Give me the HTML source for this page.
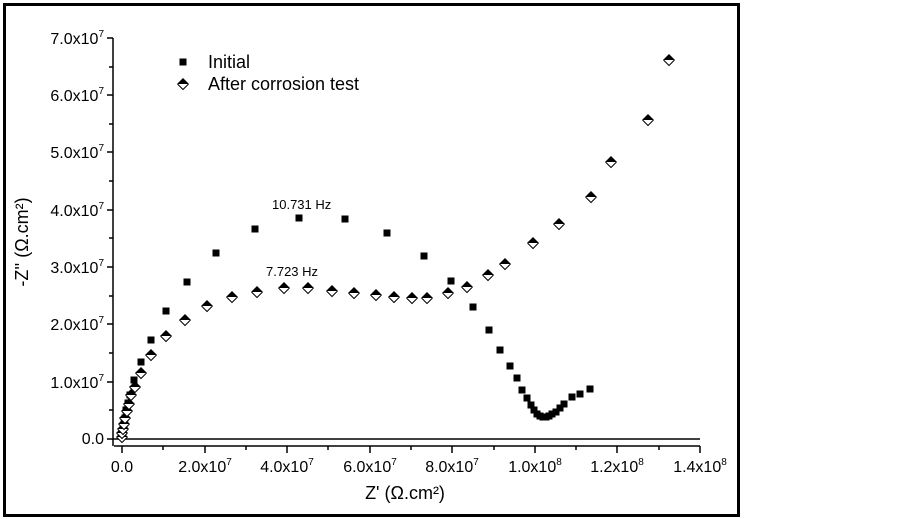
<!DOCTYPE html>
<html><head><meta charset="utf-8"><style>
body{margin:0;background:#fff}
svg{display:block}
text{font-family:"Liberation Sans",Arial,sans-serif;fill:#000}
</style></head><body>
<svg width="903" height="519" viewBox="0 0 903 519" xmlns="http://www.w3.org/2000/svg">
<defs>
<g id="sq"><rect x="-3.5" y="-3.5" width="7" height="7" fill="#000"/></g>
<g id="dm"><path d="M-6,0 L0,-6 L6,0 Z" fill="#000"/><path d="M-5.5,0 L0,5.5 L5.5,0" fill="#fff" stroke="#000" stroke-width="1"/></g>
</defs>
<rect x="4.5" y="4.5" width="734" height="511" fill="none" stroke="#000" stroke-width="3"/>
<line x1="113" y1="38" x2="113" y2="446" stroke="#000" stroke-width="1.5"/>
<line x1="113" y1="439" x2="700" y2="439" stroke="#000" stroke-width="1.5"/>
<line x1="114" y1="446" x2="700" y2="446" stroke="#000" stroke-width="1.5"/>
<g stroke="#000" stroke-width="1.5">
<line x1="107" y1="38" x2="113" y2="38"/><line x1="109" y1="67" x2="113" y2="67"/>
<line x1="107" y1="95" x2="113" y2="95"/><line x1="109" y1="124" x2="113" y2="124"/>
<line x1="107" y1="152" x2="113" y2="152"/><line x1="109" y1="181" x2="113" y2="181"/>
<line x1="107" y1="210" x2="113" y2="210"/><line x1="109" y1="238" x2="113" y2="238"/>
<line x1="107" y1="267" x2="113" y2="267"/><line x1="109" y1="296" x2="113" y2="296"/>
<line x1="107" y1="324" x2="113" y2="324"/><line x1="109" y1="353" x2="113" y2="353"/>
<line x1="107" y1="382" x2="113" y2="382"/><line x1="109" y1="410" x2="113" y2="410"/>
<line x1="107" y1="439" x2="113" y2="439"/>
<line x1="122" y1="446" x2="122" y2="453"/><line x1="163" y1="446" x2="163" y2="450"/>
<line x1="205" y1="446" x2="205" y2="453"/><line x1="246" y1="446" x2="246" y2="450"/>
<line x1="287" y1="446" x2="287" y2="453"/><line x1="328" y1="446" x2="328" y2="450"/>
<line x1="370" y1="446" x2="370" y2="453"/><line x1="411" y1="446" x2="411" y2="450"/>
<line x1="452" y1="446" x2="452" y2="453"/><line x1="494" y1="446" x2="494" y2="450"/>
<line x1="535" y1="446" x2="535" y2="453"/><line x1="576" y1="446" x2="576" y2="450"/>
<line x1="617" y1="446" x2="617" y2="453"/><line x1="659" y1="446" x2="659" y2="450"/>
<line x1="700" y1="446" x2="700" y2="453"/>
</g>
<g font-size="16" text-anchor="end">
<text x="104" y="44">7.0x10<tspan font-size="10" dy="-7">7</tspan></text>
<text x="104" y="101">6.0x10<tspan font-size="10" dy="-7">7</tspan></text>
<text x="104" y="158">5.0x10<tspan font-size="10" dy="-7">7</tspan></text>
<text x="104" y="216">4.0x10<tspan font-size="10" dy="-7">7</tspan></text>
<text x="104" y="273">3.0x10<tspan font-size="10" dy="-7">7</tspan></text>
<text x="104" y="330">2.0x10<tspan font-size="10" dy="-7">7</tspan></text>
<text x="104" y="388">1.0x10<tspan font-size="10" dy="-7">7</tspan></text>
<text x="104" y="444">0.0</text>
</g>
<g font-size="16" text-anchor="middle">
<text x="122" y="472">0.0</text>
<text x="205" y="472">2.0x10<tspan font-size="10" dy="-7">7</tspan></text>
<text x="287" y="472">4.0x10<tspan font-size="10" dy="-7">7</tspan></text>
<text x="370" y="472">6.0x10<tspan font-size="10" dy="-7">7</tspan></text>
<text x="452" y="472">8.0x10<tspan font-size="10" dy="-7">7</tspan></text>
<text x="535" y="472">1.0x10<tspan font-size="10" dy="-7">8</tspan></text>
<text x="617" y="472">1.2x10<tspan font-size="10" dy="-7">8</tspan></text>
<text x="700" y="472">1.4x10<tspan font-size="10" dy="-7">8</tspan></text>
</g>
<text x="405" y="499" font-size="18" text-anchor="middle">Z' (Ω.cm²)</text>
<text transform="translate(28,242) rotate(-90)" font-size="18" text-anchor="middle">-Z'' (Ω.cm²)</text>
<use href="#sq" x="183" y="62"/>
<text x="208" y="68" font-size="18">Initial</text>
<use href="#dm" x="183" y="84"/>
<text x="208" y="90" font-size="18">After corrosion test</text>
<text x="272" y="209" font-size="13">10.731 Hz</text>
<text x="266" y="276" font-size="13">7.723 Hz</text>
<g>
<use href="#sq" x="122" y="436"/><use href="#sq" x="123" y="430"/><use href="#sq" x="124" y="424"/>
<use href="#sq" x="125" y="418"/><use href="#sq" x="126" y="410"/><use href="#sq" x="128" y="403"/>
<use href="#sq" x="130" y="395"/><use href="#sq" x="134" y="380"/><use href="#sq" x="141" y="362"/>
<use href="#sq" x="151" y="340"/><use href="#sq" x="166" y="311"/><use href="#sq" x="187" y="282"/>
<use href="#sq" x="216" y="253"/><use href="#sq" x="255" y="229"/><use href="#sq" x="299" y="218"/>
<use href="#sq" x="345" y="219"/><use href="#sq" x="387" y="233"/><use href="#sq" x="424" y="256"/>
<use href="#sq" x="451" y="281"/><use href="#sq" x="473" y="307"/><use href="#sq" x="489" y="330"/>
<use href="#sq" x="500" y="350"/><use href="#sq" x="510" y="366"/><use href="#sq" x="517" y="378"/>
<use href="#sq" x="522" y="390"/><use href="#sq" x="527" y="398"/><use href="#sq" x="531" y="405"/>
<use href="#sq" x="534" y="410"/><use href="#sq" x="537" y="414"/><use href="#sq" x="540" y="416"/>
<use href="#sq" x="543" y="417"/><use href="#sq" x="546" y="417"/><use href="#sq" x="549" y="416"/>
<use href="#sq" x="552" y="414"/><use href="#sq" x="556" y="412"/><use href="#sq" x="560" y="408"/>
<use href="#sq" x="564" y="404"/><use href="#sq" x="572" y="397"/><use href="#sq" x="580" y="394"/>
<use href="#sq" x="590" y="389"/>
</g>
<g>
<use href="#dm" x="122" y="437"/><use href="#dm" x="122" y="433"/><use href="#dm" x="123" y="429"/>
<use href="#dm" x="124" y="424"/><use href="#dm" x="125" y="418"/><use href="#dm" x="127" y="411"/>
<use href="#dm" x="129" y="404"/><use href="#dm" x="131" y="395"/><use href="#dm" x="135" y="387"/>
<use href="#dm" x="141" y="373"/><use href="#dm" x="151" y="355"/><use href="#dm" x="166" y="336"/>
<use href="#dm" x="185" y="320"/><use href="#dm" x="207" y="306"/><use href="#dm" x="232" y="297"/>
<use href="#dm" x="257" y="292"/><use href="#dm" x="284" y="288"/><use href="#dm" x="308" y="288"/>
<use href="#dm" x="332" y="291"/><use href="#dm" x="354" y="293"/><use href="#dm" x="376" y="295"/>
<use href="#dm" x="394" y="297"/><use href="#dm" x="412" y="298"/><use href="#dm" x="427" y="298"/>
<use href="#dm" x="448" y="293"/><use href="#dm" x="467" y="287"/><use href="#dm" x="488" y="275"/>
<use href="#dm" x="505" y="264"/><use href="#dm" x="533" y="243"/><use href="#dm" x="559" y="224"/>
<use href="#dm" x="591" y="197"/><use href="#dm" x="611" y="162"/><use href="#dm" x="648" y="120"/>
<use href="#dm" x="669" y="60"/>
</g>
</svg>
</body></html>
